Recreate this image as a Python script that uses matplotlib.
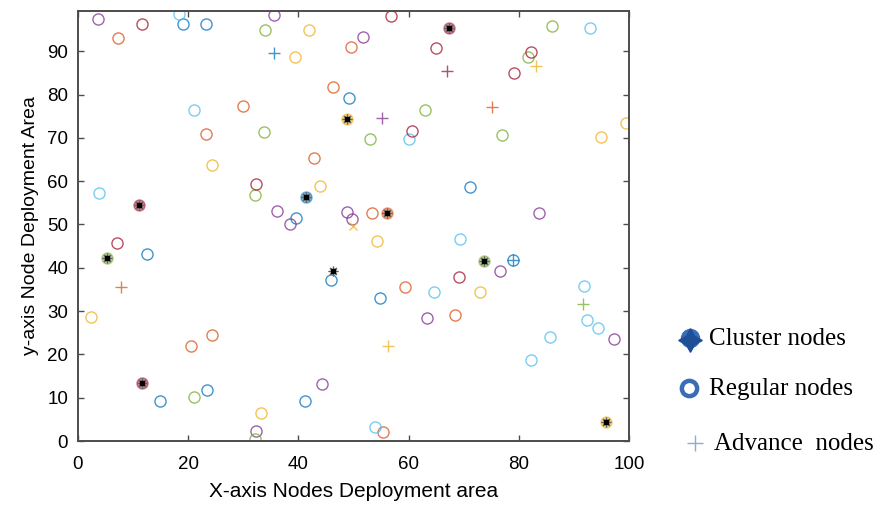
import matplotlib
matplotlib.use("Agg")
import matplotlib.pyplot as plt
from matplotlib.lines import Line2D

plt.rcParams["font.family"] = ["Liberation Sans", "DejaVu Sans"]

# MATLAB default line colours
colors = {
    "blue":   (0.000, 0.447, 0.741),
    "orange": (0.850, 0.325, 0.098),
    "yellow": (0.929, 0.694, 0.125),
    "purple": (0.494, 0.184, 0.556),
    "green":  (0.466, 0.674, 0.188),
    "cyan":   (0.301, 0.745, 0.933),
    "red":    (0.635, 0.078, 0.184),
}

# ---------------------------------------------------------
# Regular nodes (open circles), grouped by colour
# ---------------------------------------------------------
regular_blue_x = [19.1, 23.2, 49.1, 39.5, 12.6, 14.9, 23.4, 45.9, 41.2, 71.2, 54.9, 78.9]
regular_blue_y = [96.3, 96.3, 79.3, 51.4, 43.3, 9.2, 11.8, 37.2, 9.2, 58.7, 33.1, 41.8]

regular_orange_x = [7.3, 49.5, 46.2, 29.9, 23.2, 42.9, 53.4, 20.6, 24.4, 59.3, 68.4, 55.4]
regular_orange_y = [93.0, 90.9, 81.8, 77.4, 70.9, 65.3, 52.6, 21.9, 24.5, 35.6, 29.1, 2.0]

regular_yellow_x = [41.9, 39.4, 24.3, 43.9, 99.4, 95.0, 2.3, 33.3, 54.2, 73.0]
regular_yellow_y = [94.8, 88.6, 63.8, 59.0, 73.5, 70.1, 28.6, 6.5, 46.3, 34.3]

regular_purple_x = [3.7, 35.6, 51.7, 36.1, 38.5, 48.9, 49.8, 83.7, 32.3, 44.2, 76.6, 63.4, 97.2]
regular_purple_y = [97.4, 98.4, 93.2, 53.2, 50.0, 52.8, 51.3, 52.7, 2.2, 13.1, 39.3, 28.3, 23.6]

regular_green_x = [34.0, 33.8, 32.2, 86.1, 81.7, 63.0, 53.0, 77.0, 21.1, 32.2]
regular_green_y = [94.8, 71.4, 56.8, 95.8, 88.6, 76.4, 69.7, 70.7, 10.2, 0.5]

regular_cyan_x = [18.3, 21.1, 3.9, 93.0, 60.1, 69.3, 64.6, 91.9, 92.4, 94.3, 85.7, 82.2, 53.9]
regular_cyan_y = [98.6, 76.4, 57.3, 95.3, 69.7, 46.6, 34.5, 35.9, 27.9, 26.0, 24.0, 18.7, 3.2]

regular_red_x = [11.6, 56.8, 64.9, 82.3, 79.1, 60.6, 32.3, 7.0, 69.1]
regular_red_y = [96.3, 98.2, 90.7, 89.8, 84.9, 71.7, 59.3, 45.8, 37.9]

# ---------------------------------------------------------
# Cluster nodes (filled circle + asterisk)
# ---------------------------------------------------------
cluster_x = [67.4, 48.8, 41.4, 11.0, 56.0, 5.2, 73.7, 11.6, 95.8]
cluster_y = [95.3, 74.3, 56.4, 54.4, 52.7, 42.3, 41.6, 13.3, 4.3]
cluster_c = ["red", "yellow", "blue", "red", "orange", "green", "green", "red", "yellow"]
# head without a coloured disc
lone_head_x = [46.2]
lone_head_y = [39.3]

# ---------------------------------------------------------
# Advance nodes (+)
# ---------------------------------------------------------
advance_x = [35.5, 66.9, 83.1, 75.2, 55.1, 7.9, 56.2, 91.6, 78.9]
advance_y = [89.7, 85.5, 86.6, 77.2, 74.5, 35.6, 21.9, 31.6, 41.8]
advance_c = ["blue", "red", "yellow", "orange", "purple", "orange", "yellow", "green", "blue"]
cross_x = [50.0]
cross_y = [49.7]

regular_groups = [
    ("blue", regular_blue_x, regular_blue_y),
    ("orange", regular_orange_x, regular_orange_y),
    ("yellow", regular_yellow_x, regular_yellow_y),
    ("purple", regular_purple_x, regular_purple_y),
    ("green", regular_green_x, regular_green_y),
    ("cyan", regular_cyan_x, regular_cyan_y),
    ("red", regular_red_x, regular_red_y),
]

fig = plt.figure(figsize=(8.88, 5.05), dpi=100)
ax = fig.add_axes([0.0878, 0.1267, 0.6205, 0.8515])

for cname, xs, ys in regular_groups:
    ax.plot(xs, ys, linestyle="none", marker="o", markersize=8,
            markerfacecolor="none", markeredgecolor=colors[cname],
            markeredgewidth=1.0, alpha=0.75)

for x, y, cname in zip(cluster_x, cluster_y, cluster_c):
    ax.plot([x], [y], linestyle="none", marker="o", markersize=8,
            markerfacecolor=colors[cname], markeredgecolor=colors[cname],
            alpha=0.5)
    ax.plot([x], [y], linestyle="none", marker=(8, 2, 0), markersize=7,
            color="0.4", markeredgewidth=0.9)
    ax.plot([x], [y], linestyle="none", marker="s", markersize=2.2,
            color="black")

ax.plot(lone_head_x, lone_head_y, linestyle="none", marker=(8, 2, 0),
        markersize=7, color="0.4", markeredgewidth=0.9)
ax.plot(lone_head_x, lone_head_y, linestyle="none", marker="s",
        markersize=2.2, color="black")

for x, y, cname in zip(advance_x, advance_y, advance_c):
    ax.plot([x], [y], linestyle="none", marker="+", markersize=8,
            markeredgewidth=1.0, color=colors[cname], alpha=0.75)
ax.plot(cross_x, cross_y, linestyle="none", marker="x", markersize=6,
        markeredgewidth=1.0, color=colors["yellow"], alpha=0.75)

ax.set_xlim(0, 100)
ax.set_ylim(0, 99.3)
ax.set_xticks(range(0, 101, 20))
ax.set_yticks(range(0, 91, 10))
ax.tick_params(direction="in", top=True, right=True, length=4,
               width=1.0, color="0.3", labelsize=13.5)
ax.tick_params(axis="x", pad=11)
ax.tick_params(axis="y", pad=7)
for sp in ax.spines.values():
    sp.set_color("0.3")
    sp.set_linewidth(1.4)

ax.set_xlabel("X-axis Nodes Deployment area", fontsize=15, labelpad=6)
ax.set_ylabel("y-axis Node Deployment Area", fontsize=14, labelpad=6)

# ---------------------------------------------------------
# Legend outside on the right (serif text)
# ---------------------------------------------------------
leg_blue = "#3a6db5"
fig.add_artist(Line2D([690 / 888], [1 - 338 / 505], transform=fig.transFigure,
                      marker="o", markersize=13, color=leg_blue, linestyle="none"))
fig.add_artist(Line2D([690 / 888], [1 - 340 / 505], transform=fig.transFigure,
                      marker=(4, 1, 0), markersize=17, color="#1f4f99", linestyle="none"))
fig.add_artist(Line2D([689 / 888], [1 - 388 / 505], transform=fig.transFigure,
                      marker="o", markersize=11, markerfacecolor="white",
                      markeredgecolor=leg_blue, markeredgewidth=3.2, linestyle="none"))
fig.add_artist(Line2D([695 / 888], [1 - 443 / 505], transform=fig.transFigure,
                      marker="+", markersize=11, markeredgewidth=1.0,
                      color="#8fa9d6", linestyle="none"))

serif = ["Liberation Serif", "DejaVu Serif"]
fig.text(709 / 888, 1 - 339 / 505, "Cluster nodes", family=serif,
         fontsize=18, va="center", ha="left")
fig.text(709 / 888, 1 - 389 / 505, "Regular nodes", family=serif,
         fontsize=18, va="center", ha="left")
fig.text(714 / 888, 1 - 444 / 505, "Advance  nodes", family=serif,
         fontsize=18, va="center", ha="left")

fig.savefig("out.png", dpi=100)
plt.close(fig)
